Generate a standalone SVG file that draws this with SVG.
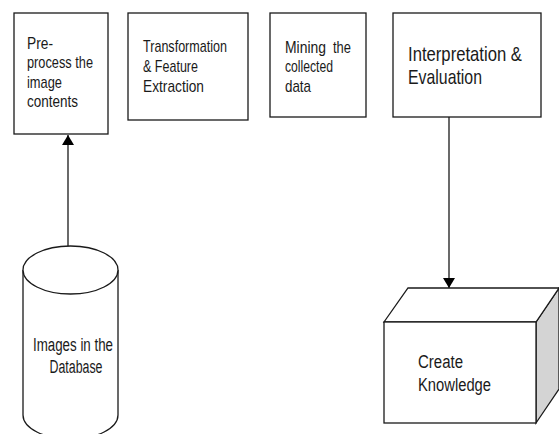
<svg xmlns="http://www.w3.org/2000/svg" width="559" height="434" viewBox="0 0 559 434">
<style>
.box{fill:#fff;stroke:#1a1a1a;stroke-width:1.3}
.t{font-family:"Liberation Sans",Arial,sans-serif;fill:#1a1a1a;font-size:17px}
.tm{font-family:"Liberation Sans",Arial,sans-serif;fill:#1a1a1a;font-size:18px}
.tl{font-family:"Liberation Sans",Arial,sans-serif;fill:#1a1a1a;font-size:21px}
.c{stroke:#1a1a1a;stroke-width:1.3;fill:none}
</style>
<defs>
<marker id="ah" viewBox="0 0 10 12" refX="10" refY="6" markerWidth="10" markerHeight="12" markerUnits="userSpaceOnUse" orient="auto">
<path d="M0,0 L10,6 L0,12 Z" fill="#000"/>
</marker>
</defs>
<rect width="559" height="434" fill="#fff"/>
<g id="connectors">
<line class="c" x1="68" y1="246" x2="68" y2="135" marker-end="url(#ah)"/>
<line class="c" x1="449" y1="117" x2="449" y2="288" marker-end="url(#ah)"/>
</g>
<g id="preprocess">
<rect class="box" x="14" y="13" width="94" height="121"/>
<text class="t" x="27" y="49" textLength="26" lengthAdjust="spacingAndGlyphs">Pre-</text>
<text class="t" x="27" y="68" textLength="66" lengthAdjust="spacingAndGlyphs">process the</text>
<text class="t" x="27" y="88" textLength="35" lengthAdjust="spacingAndGlyphs">image</text>
<text class="t" x="27" y="107" textLength="51" lengthAdjust="spacingAndGlyphs">contents</text>
</g>
<g id="transformation">
<rect class="box" x="128" y="13" width="120" height="107"/>
<text class="t" x="143" y="52" textLength="84" lengthAdjust="spacingAndGlyphs">Transformation</text>
<text class="t" x="143" y="72" textLength="55" lengthAdjust="spacingAndGlyphs">&amp; Feature</text>
<text class="t" x="143" y="92" textLength="61" lengthAdjust="spacingAndGlyphs">Extraction</text>
</g>
<g id="mining">
<rect class="box" x="270" y="13" width="96" height="104"/>
<text class="t" x="285" y="53" textLength="41" lengthAdjust="spacingAndGlyphs">Mining</text>
<text class="t" x="333" y="53" textLength="18" lengthAdjust="spacingAndGlyphs">the</text>
<text class="t" x="285" y="72" textLength="48" lengthAdjust="spacingAndGlyphs">collected</text>
<text class="t" x="285" y="92" textLength="26" lengthAdjust="spacingAndGlyphs">data</text>
</g>
<g id="interpretation">
<rect class="box" x="393" y="13" width="148" height="104"/>
<text class="tl" x="408" y="61" textLength="114" lengthAdjust="spacingAndGlyphs">Interpretation &amp;</text>
<text class="tl" x="408" y="84" textLength="74" lengthAdjust="spacingAndGlyphs">Evaluation</text>
</g>
<g id="database">
<path d="M23,270 L23,415 A47.5,24 0 0 0 118,415 L118,270" fill="#fff" stroke="#1a1a1a" stroke-width="1.3"/>
<ellipse cx="70.5" cy="270" rx="47.5" ry="24" fill="#fff" stroke="#1a1a1a" stroke-width="1.3"/>
<text class="tm" x="73" y="351" text-anchor="middle" textLength="80" lengthAdjust="spacingAndGlyphs">Images in the</text>
<text class="tm" x="76" y="373" text-anchor="middle" textLength="53" lengthAdjust="spacingAndGlyphs">Database</text>
</g>
<g id="knowledge">
<polygon points="536,322 559,288 559,389 536,423" fill="#d4d4d4" stroke="#1a1a1a" stroke-width="1.3"/>
<polygon points="384,322 408,288 559,288 536,322" fill="#fff" stroke="#1a1a1a" stroke-width="1.3"/>
<rect class="box" x="384" y="322" width="152" height="101"/>
<text class="tm" x="418" y="368" textLength="45" lengthAdjust="spacingAndGlyphs">Create</text>
<text class="tm" x="418" y="391" textLength="73" lengthAdjust="spacingAndGlyphs">Knowledge</text>
</g>
</svg>
